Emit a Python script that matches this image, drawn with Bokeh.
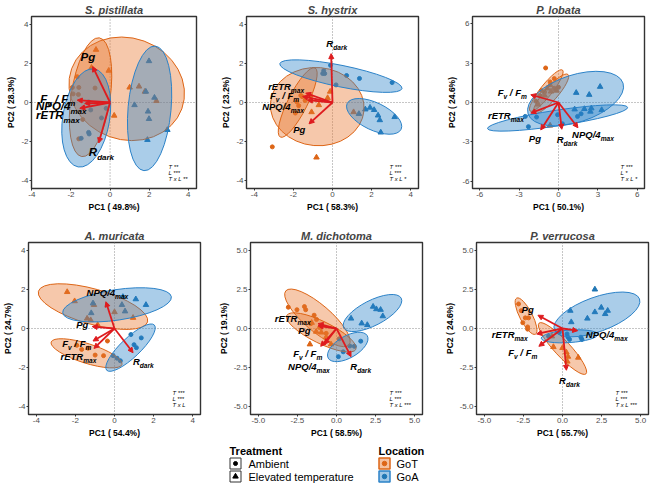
from bokeh.plotting import figure
from bokeh.models import Range1d, FixedTicker, Span, Arrow, NormalHead, NumeralTickFormatter
from bokeh.layouts import column, row
from bokeh.embed import file_html
from bokeh.resources import INLINE
from bokeh.core.properties import value

FONT = "Liberation Sans"
ORANGE = "#DD6516"
BLUE = "#1F76B4"
ORANGE_F = "#E8762C"
BLUE_F = "#2B82C8"
RED = "#DE1B1E"
NB = "\u00a0"

# ---------------- data ----------------
titles = ["S. pistillata", "S. hystrix", "P. lobata", "A. muricata", "M. dichotoma", "P. verrucosa"]
pc1_labels = ["PC1 ( 49.8%)", "PC1 ( 58.3%)", "PC1 ( 50.1%)", "PC1 ( 54.4%)", "PC1 ( 58.5%)", "PC1 ( 55.7%)"]
pc2_labels = ["PC2 ( 28.3%)", "PC2 ( 23.2%)", "PC2 ( 24.6%)", "PC2 ( 24.7%)", "PC2 ( 19.1%)", "PC2 ( 24.6%)"]
stat_texts = [["T **", "L ***", "T x L **"], ["T ***", "L ***", "T x L *"], ["T ***", "L *", "T x L *"],
              ["T ***", "L ***", "T x L"], ["T ***", "L ***", "T x L ***"], ["T ***", "L ***", "T x L ***"]]
ticks_4 = [-4, -2, 0, 2, 4]
ticks_6 = [-6, -3, 0, 3, 6]
ticks_5 = [-5, -2.5, 0, 2.5, 5]
var_names = ["Pg", "FvFm", "NPQ", "rETR", "Rdark"]

# S. pistillata
pist_got_amb = [(-1.68, 1.32), (-1.93, 0.77), (-1.6, 0.77), (-0.77, 0.74), (-1.89, 0.44), (-1.62, 0.41), (-1.4, -0.87), (-1.6, -1.86)]
pist_got_elev = [(-0.72, 2.7), (-0.95, 1.78), (-0.07, 1.63), (1.0, 0.77), (1.48, 0.82), (1.78, 0.56), (2.37, 0.08), (0.21, -0.67)]
pist_goa_amb = [(-1.1, 0.03), (-0.99, -0.38), (-0.44, -0.79), (-1.1, -1.53), (-1.07, -1.61), (-1.48, -1.83), (-0.2, -0.3)]
pist_goa_elev = [(1.99, 2.12), (1.83, 0.56), (2.27, 0.25), (1.25, -0.13), (1.94, -0.46), (1.99, -0.84), (2.93, -1.4), (1.91, -1.91)]
pist_ellipses = [(0.85, 0.7, 3.0, 2.6, -20, "GoT"), (-1.0, 0.27, 3.07, 1.0, 81.6, "GoT"),
                 (-1.22, -0.79, 2.54, 1.2, 80.7, "GoA"), (2.02, -0.3, 3.2, 1.1, 84.8, "GoA")]
pist_arrows = [(-0.89, 1.84), (-1.68, 0.12), (-1.55, -0.3), (-1.3, -0.05), (-0.58, -2.07)]
pist_labels = [(-1.14, 2.34), (-2.67, 0.2), (-2.5, -0.2), (-2.67, -0.66), (-0.44, -2.55)]

# S. hystrix
hyst_got_amb = [(-1.12, 0.33), (-1.62, 0.36), (-1.55, 0.3), (-1.82, 0.03), (-1.73, -0.16), (-1.9, -0.54), (-3.08, -2.27), (-1.4, 0.1)]
hyst_got_elev = [(-0.12, 0.56), (-0.25, 0.23), (-0.7, -0.13), (-1.07, -0.49), (1.08, -0.49), (-0.82, -2.81)]
hyst_goa_amb = [(-0.45, 1.63), (-0.4, 1.48), (-0.5, 1.48), (-0.1, 1.9), (0.72, 1.38), (1.38, 1.23), (0.18, 0.9), (3.05, 1.02)]
hyst_goa_elev = [(1.68, -0.35), (1.92, -0.26), (2.13, -0.38), (2.33, -0.66), (2.42, -0.9), (3.18, -0.74), (1.35, -0.58), (2.47, -1.53)]
hyst_ellipses = [(-0.78, -0.21, 2.4, 2.0, -5, "GoT"), (-1.78, 0.0, 1.98, 0.5, 63.3, "GoT"),
                 (0.43, 1.35, 3.19, 0.55, -11.5, "GoA"), (2.13, -0.71, 1.53, 0.7, -25.6, "GoA")]
hyst_arrows = [(-1.2, -1.09), (-1.53, 0.31), (-1.28, 0.12), (-1.37, 0.48), (-0.07, 2.5)]
hyst_labels = [(-1.7, -1.37), (-2.45, 0.36), (-2.53, -0.18), (-2.37, 0.82), (0.22, 3.0)]

# P. lobata
lob_got_amb = [(-0.98, 2.63), (-0.32, 1.82), (-0.64, 1.57), (0.0, 1.16), (-0.32, 1.08), (-1.3, 0.91), (-1.06, 0.79), (-1.43, 0.54), (-1.72, 0.1)]
lob_got_elev = [(-0.64, 1.33), (-0.86, 1.08), (-0.57, 0.84), (-1.06, 0.54), (-0.15, 0.91), (-1.55, -0.15), (-0.64, -1.75)]
lob_goa_amb = [(-2.53, -1.06), (-2.29, -1.84), (-1.67, -1.11), (-0.07, -0.93), (0.3, -1.62), (1.45, -1.06), (1.72, -0.86)]
lob_goa_elev = [(1.35, 0.74), (2.34, 0.59), (3.17, 1.2), (1.23, -0.52), (1.97, -0.49), (2.5, -0.44), (2.43, -0.69), (3.29, -0.57)]
lob_ellipses = [(-0.93, 0.91, 1.99, 0.45, 51.7, "GoT"), (-0.57, 0.66, 1.96, 0.5, 48.8, "GoT"),
                (1.3, 0.3, 3.8, 1.8, 18, "GoA"), (-0.07, -1.18, 5.4, 0.6, 8.6, "GoA")]
lob_arrows = [(-1.35, -2.09), (-2.11, 0.59), (1.48, -1.92), (-2.11, -0.81), (0.25, -2.04)]
lob_labels = [(-1.8, -2.73), (-3.52, 0.74), (2.63, -2.41), (-4.0, -0.98), (0.66, -2.85)]

# A. muricata
mur_got_amb = [(-1.93, -0.86), (-1.68, -1.07), (-1.35, -1.01), (-0.36, -0.64), (-0.99, -1.36), (-0.56, -1.39)]
mur_got_elev = [(-2.42, 1.87), (-2.04, 1.4), (-1.4, 0.51), (-1.22, 0.43), (-0.86, 0.18), (0.0, 0.84), (0.95, 0.55), (-1.05, 1.21)]
mur_goa_amb = [(0.84, -0.31), (1.37, -0.48), (1.0, -0.83), (1.12, -0.98), (-0.07, -1.39), (0.13, -1.52), (0.3, -1.65)]
mur_goa_elev = [(-1.1, 1.29), (-1.19, 0.79), (0.43, 1.62), (1.09, 1.5), (1.61, 1.21), (0.38, 1.21), (0.54, 0.88)]
mur_ellipses = [(-1.1, 1.12, 2.9, 0.9, -15.7, "GoT"), (-1.43, -1.27, 1.9, 0.5, -17.6, "GoT"),
                (0.13, 1.21, 2.81, 0.78, 8.5, "GoA"), (0.82, -0.98, 1.68, 0.5, 43.5, "GoA")]
mur_arrows = [(-1.14, 0.1), (-1.1, -0.64), (-0.44, 1.37), (-1.05, -1.02), (0.95, -1.24)]
mur_labels = [(-1.65, 0.21), (-1.93, -0.78), (-0.36, 1.82), (-1.84, -1.44), (1.48, -1.69)]

# M. dichotoma
dich_got_amb = [(-3.08, 1.36), (-2.53, 1.2), (-2.05, 1.4), (-1.97, 1.2), (-1.43, 0.85), (-1.28, 0.58), (-1.64, 0.31), (-1.08, 0.06), (-0.66, -0.31)]
dich_got_elev = [(-1.59, 0.37), (-0.97, -0.25), (-0.66, -0.56), (-1.7, -1.01), (-0.35, -1.01), (-1.3, -0.2)]
dich_goa_amb = [(0.17, -0.66), (0.85, -1.12), (1.14, -1.14), (1.55, -0.81), (0.43, -1.49), (0.12, -1.8)]
dich_goa_elev = [(2.34, 1.4), (2.55, 1.24), (2.82, 1.2), (2.96, 0.79), (0.93, 0.64), (1.61, 0.33), (1.97, 0.23)]
dich_ellipses = [(-1.22, 0.68, 2.66, 0.85, -40.5, "GoT"), (-0.97, -0.25, 2.46, 0.7, -26.2, "GoT"),
                 (2.3, 0.99, 2.07, 0.8, 27.3, "GoA"), (0.72, -1.18, 1.44, 0.7, 30, "GoA")]
dich_arrows = [(-1.18, 0.17), (-1.01, -1.14), (-0.77, -1.01), (-1.18, 0.31), (0.93, -1.8)]
dich_labels = [(-2.05, -0.14), (-1.84, -1.59), (-1.76, -2.42), (-2.8, 0.62), (1.55, -2.42)]

# P. verrucosa
verr_got_amb = [(-2.81, 1.57), (-2.64, 1.14), (-2.38, 0.68), (-2.17, 0.68), (-2.54, 0.37), (-2.23, 0.1), (-2.23, -0.04)]
verr_got_elev = [(-0.68, -0.5), (-0.58, -1.18), (0.0, -1.24), (0.25, -1.53), (0.35, -1.8), (1.01, -1.86), (0.31, -2.11)]
verr_goa_amb = [(-0.89, -0.5), (0.29, -0.35), (0.35, -0.56), (0.45, -0.7), (1.18, -0.56), (1.24, -0.7), (-0.21, -0.25)]
verr_goa_elev = [(2.07, 2.5), (0.5, 1.14), (2.07, 1.05), (2.48, 1.34), (2.89, 1.14), (2.73, 0.93), (1.59, 0.64), (0.56, 0.41)]
verr_ellipses = [(-2.33, 0.79, 1.3, 0.4, -62.5, "GoT"), (0.0, -1.28, 2.21, 0.5, -47.2, "GoT"),
                 (2.2, 0.9, 2.9, 1.1, 20, "GoA"), (0.45, -0.5, 1.81, 0.4, 4, "GoA")]
verr_arrows = [(-1.57, 0.85), (-1.51, -1.14), (0.97, -0.14), (-1.65, -0.35), (0.25, -2.67)]
verr_labels = [(-2.23, 1.2), (-2.54, -1.55), (2.83, -0.39), (-3.37, -0.39), (0.45, -3.35)]

# ---------------- styling helpers ----------------
LABEL_PARTS = {
    "Pg": [("Pg", 0)],
    "FvFm": [("F", 0), ("v", 1), (NB + "/" + NB + "F", 0), ("m", 1)],
    "NPQ": [("NPQ/4", 0), ("max", 1)],
    "rETR": [("rETR", 0), ("max", 1)],
    "Rdark": [("R", 0), ("dark", 1)],
}
CW = {' ': 0.278, NB: 0.278, '/': 0.278, '4': 0.556, 'F': 0.611, 'N': 0.722, 'P': 0.667, 'Q': 0.778, 'R': 0.722,
      'E': 0.667, 'T': 0.611, 'a': 0.556, 'd': 0.611, 'g': 0.611, 'k': 0.556, 'm': 0.889, 'r': 0.389,
      'v': 0.556, 'x': 0.556}


def tw(s, fs):
    return sum(CW.get(c, 0.56) for c in s) * fs


def make_panel(k, got_amb, got_elev, goa_amb, goa_elev, ellipses, arrows, labels,
               xr, yr, ticks, fmt, fw, fh, lb, rb, tb, bb, lab_fs, stat_dx):
    p = figure(frame_width=fw, frame_height=fh, x_range=Range1d(*xr), y_range=Range1d(*yr),
               output_backend="svg", toolbar_location=None, tools="",
               min_border_left=lb, min_border_right=rb, min_border_top=tb, min_border_bottom=bb)
    p.title.text = titles[k]
    p.title.align = "center"
    p.title.text_font = FONT
    p.title.text_font_size = "11px"
    p.title.text_font_style = "bold italic"
    p.title.standoff = 2
    p.xgrid.visible = False
    p.ygrid.visible = False
    p.outline_line_color = "#333333"
    p.outline_line_width = 1.4
    p.xaxis.axis_label = pc1_labels[k]
    p.yaxis.axis_label = pc2_labels[k]
    for ax in (p.xaxis[0], p.yaxis[0]):
        ax.ticker = FixedTicker(ticks=ticks)
        ax.formatter = NumeralTickFormatter(format=fmt)
        ax.axis_line_color = None
        ax.major_tick_line_color = "#333333"
        ax.major_tick_out = 2
        ax.major_tick_in = 0
        ax.minor_tick_line_color = None
        ax.major_label_text_font = FONT
        ax.major_label_text_font_size = "8px"
        ax.major_label_text_color = "#4D4D4D"
        ax.major_label_standoff = 1
        ax.axis_label_text_font = FONT
        ax.axis_label_text_font_size = "8.5px"
        ax.axis_label_text_font_style = "bold"
        ax.axis_label_text_color = "black"
        ax.axis_label_standoff = 2
    p.add_layout(Span(location=0, dimension="width", line_color="#8C8C8C", line_dash="1 2", line_width=1, level="underlay"))
    p.add_layout(Span(location=0, dimension="height", line_color="#8C8C8C", line_dash="1 2", line_width=1, level="underlay"))

    # points
    for pts, col, mk, sz in ((got_amb, ORANGE, "circle", 4), (got_elev, ORANGE, "triangle", 5.5),
                             (goa_amb, BLUE, "circle", 4), (goa_elev, BLUE, "triangle", 5.5)):
        p.scatter([a for a, b in pts], [b for a, b in pts], marker=mk, size=sz, color=col)

    # ellipses
    for cx, cy, a, b, ang, loc in ellipses:
        fc = ORANGE_F if loc == "GoT" else BLUE_F
        lc = ORANGE if loc == "GoT" else BLUE_F
        p.ellipse(x=[cx], y=[cy], width=[2 * a], height=[2 * b], angle=[ang], angle_units="deg",
                  fill_color=fc, fill_alpha=0.4, line_color=lc, line_width=1)

    # arrows
    for ex, ey in arrows:
        p.add_layout(Arrow(end=NormalHead(size=5, fill_color=RED, line_color=RED, line_width=1),
                           x_start=0, y_start=0, x_end=ex, y_end=ey, line_color=RED, line_width=1.8))

    # labels with subscripts
    sub_fs = lab_fs * 0.7
    mx, my, mt, mo = [], [], [], []
    sx, sy, st, so = [], [], [], []
    for name, (lx, ly) in zip(var_names, labels):
        parts = LABEL_PARTS[name]
        total = sum(tw(s, sub_fs if sub else lab_fs) for s, sub in parts)
        off = -total / 2
        for s, sub in parts:
            if sub:
                sx.append(lx); sy.append(ly); st.append(s); so.append(off)
                off += tw(s, sub_fs)
            else:
                mx.append(lx); my.append(ly); mt.append(s); mo.append(off)
                off += tw(s, lab_fs)
    r1 = p.text(x=mx, y=my, text=mt, x_offset=mo, text_font=value(FONT), text_font_size=f"{lab_fs}px",
                text_font_style="bold italic", text_align="left", text_baseline="middle", text_color="black")
    r2 = p.text(x=sx, y=sy, text=st, x_offset=so, y_offset=lab_fs * 0.42, text_font=value(FONT),
                text_font_size=f"{sub_fs:.1f}px", text_font_style="bold italic", text_align="left",
                text_baseline="middle", text_color="black")
    r1.level = "overlay"
    r2.level = "overlay"

    # stats
    ppu = fw / (xr[1] - xr[0])
    stx = xr[1] - stat_dx / ppu
    sty = [yr[0] + d / ppu for d in (22, 16, 10)]
    p.text(x=[stx] * 3, y=sty, text=stat_texts[k], text_font=value(FONT), text_font_size="5.8px",
           text_font_style="italic", text_align="left", text_baseline="middle", text_color="black")
    return p


p1 = make_panel(0, pist_got_amb, pist_got_elev, pist_goa_amb, pist_goa_elev, pist_ellipses, pist_arrows, pist_labels,
                (-4.02, 4.42), (-4.4, 4.4), ticks_4, "0", 165, 172, 31, 4, 16, 28, 11.5, 28)
p2 = make_panel(1, hyst_got_amb, hyst_got_elev, hyst_goa_amb, hyst_goa_elev, hyst_ellipses, hyst_arrows, hyst_labels,
                (-4.4, 4.4), (-4.4, 4.4), ticks_4, "0", 172, 172, 46, 6, 16, 28, 9.5, 29)
p3 = make_panel(2, lob_got_amb, lob_got_elev, lob_goa_amb, lob_goa_elev, lob_ellipses, lob_arrows, lob_labels,
                (-6.55, 6.55), (-6.55, 6.55), ticks_6, "0", 172, 172, 48, 5, 16, 28, 9.5, 24)
p4 = make_panel(3, mur_got_amb, mur_got_elev, mur_goa_amb, mur_goa_elev, mur_ellipses, mur_arrows, mur_labels,
                (-4.4, 4.4), (-4.4, 4.4), ticks_4, "0", 172, 172, 24, 4, 26, 26, 9.5, 28)
p5 = make_panel(4, dich_got_amb, dich_got_elev, dich_goa_amb, dich_goa_elev, dich_ellipses, dich_arrows, dich_labels,
                (-5.5, 5.5), (-5.5, 5.5), ticks_5, "0.0", 172, 172, 46, 6, 26, 26, 9.5, 33)
p6 = make_panel(5, verr_got_amb, verr_got_elev, verr_goa_amb, verr_goa_elev, verr_ellipses, verr_arrows, verr_labels,
                (-5.5, 5.5), (-5.5, 5.5), ticks_5, "0.0", 172, 172, 48, 5, 26, 26, 9.5, 33)

# ---------------- legend ----------------
leg = figure(width=649, height=46, x_range=Range1d(8, 657), y_range=Range1d(494, 448),
             output_backend="svg", toolbar_location=None, tools="", min_border=0,
             x_axis_location=None, y_axis_location=None)
leg.xgrid.visible = False
leg.ygrid.visible = False
leg.outline_line_color = None

treat_labels = ["Ambient", "Elevated temperature"]
treat_markers = ["circle", "triangle"]
loc_labels = ["GoT", "GoA"]
item_y = [471, 484]

leg.text(x=[237, 386], y=[458, 458], text=["Treatment", "Location"], text_font=value(FONT),
         text_font_size="11px", text_font_style="bold", text_baseline="middle", text_color="black")
leg.scatter(x=[243, 243], y=item_y, marker="square", size=11, fill_color="white", line_color="#333333", line_width=1)
leg.scatter(x=[243], y=[item_y[0]], marker=treat_markers[0], size=4, color="black")
leg.scatter(x=[243], y=[item_y[1]], marker=treat_markers[1], size=5.5, color="black")
leg.text(x=[256, 256], y=item_y, text=treat_labels, text_font=value(FONT), text_font_size="11px",
         text_baseline="middle", text_color="black")
leg.scatter(x=[392], y=[item_y[0]], marker="square", size=11, fill_color=ORANGE_F, fill_alpha=0.45,
            line_color=ORANGE, line_width=1.5)
leg.scatter(x=[392], y=[item_y[1]], marker="square", size=11, fill_color=BLUE_F, fill_alpha=0.45,
            line_color=BLUE_F, line_width=1.5)
leg.scatter(x=[392], y=[item_y[0]], marker="circle", size=4.5, color=ORANGE)
leg.scatter(x=[392], y=[item_y[1]], marker="circle", size=4.5, color=BLUE)
leg.text(x=[404, 404], y=item_y, text=loc_labels, text_font=value(FONT), text_font_size="11px",
         text_baseline="middle", text_color="black")

layout = column(row(p1, p2, p3), row(p4, p5, p6), leg)
open("out.html", "w").write(file_html(layout, INLINE))
